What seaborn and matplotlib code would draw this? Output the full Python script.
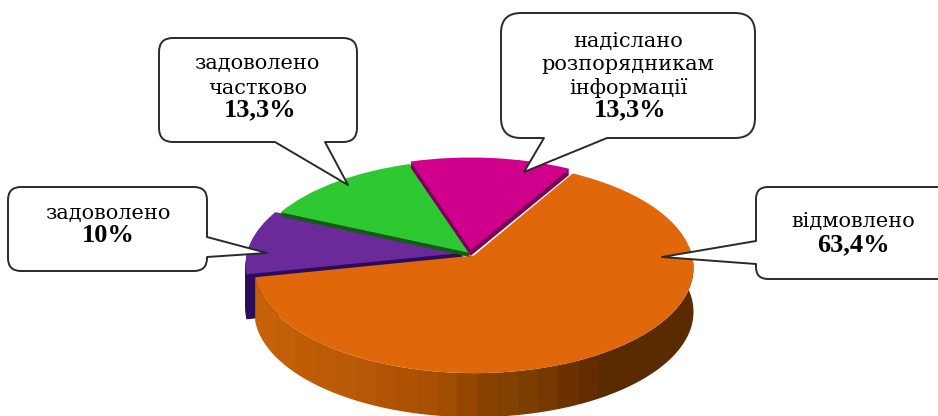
import numpy as np
import seaborn as sns
import matplotlib
matplotlib.use("Agg")
import matplotlib.pyplot as plt
from matplotlib.colors import LinearSegmentedColormap
from matplotlib.patches import PathPatch
from matplotlib.path import Path
from matplotlib.transforms import Affine2D, Transform

# Data, clockwise from the upper right
categories = ["відмовлено", "задоволено", "задоволено частково", "надіслано розпорядникам інформації"]
shares = [63.4, 10.0, 13.3, 13.3]
share_labels = ["63,4%", "10%", "13,3%", "13,3%"]

top_colors = ["#e0680a", "#6a2a9a", "#2ec832", "#d0008c"]
wall_colors = ["#5a2a00", "#2a0c58", "#145a16", "#7c0058"]
wall_depth = [0, 45, 4, 6]
explode = [0.03, 0.025, 0.0, 0.03]
layer_order = [3, 2, 4, 5]

sns.set_theme(style="white")


# tilts the flat pie into the perspective of the picture
class Tilt(Transform):
    input_dims = 2
    output_dims = 2

    def transform_non_affine(self, values):
        values = np.asarray(values)
        w = 1 + 0.114 * values[:, 1]
        return np.column_stack((470 + 217.6 * values[:, 0] / w, 253 - 103.6 * values[:, 1] / w))


def draw_pie(colors, depth, zorders):
    wedges, _ = ax.pie(shares, explode=explode, colors=colors, startangle=60,
                       counterclock=False, wedgeprops={"linewidth": 0})
    move = tilt + Affine2D().translate(0, depth) + ax.transData
    for wedge, z in zip(wedges, zorders):
        wedge.set_transform(move)
        wedge.set_zorder(z)
    return wedges


def balloon(left, top, right, bottom, rad, side, tail):
    # rounded box, the tail is (start, tip x, tip y, end) on the given side
    a, tx, ty, b = tail
    verts = [(left + rad, top)]
    codes = [Path.MOVETO]

    def line(*pts):
        verts.extend(pts)
        codes.extend([Path.LINETO] * len(pts))

    def corner(c, p):
        verts.extend([c, p])
        codes.extend([Path.CURVE3, Path.CURVE3])

    line((right - rad, top))
    corner((right, top), (right, top + rad))
    if side == "right":
        line((right, a), (tx, ty), (right, b))
    line((right, bottom - rad))
    corner((right, bottom), (right - rad, bottom))
    if side == "bottom":
        line((b, bottom), (tx, ty), (a, bottom))
    line((left + rad, bottom))
    corner((left, bottom), (left, bottom - rad))
    if side == "left":
        line((left, b), (tx, ty), (left, a))
    line((left, top + rad))
    corner((left, top), (left + rad, top))
    verts.append((left + rad, top))
    codes.append(Path.CLOSEPOLY)
    ax.add_patch(PathPatch(Path(verts, codes), facecolor="white", edgecolor="#2a2a2a",
                           linewidth=1.4, zorder=20, joinstyle="round"))


def label(lines, x_share, y_share, share):
    for x, y, txt in lines:
        ax.text(x, y, txt, ha="center", va="center", fontsize=15,
                family="DejaVu Serif", color="black", zorder=21)
    ax.text(x_share, y_share, share, ha="center", va="center", fontsize=19,
            family="Liberation Serif", weight="bold", color="black", zorder=22)


fig, ax = plt.subplots(figsize=(9.38, 4.16), dpi=100)
fig.subplots_adjust(0, 0, 1, 1)
tilt = Tilt()

# walls first, stacked downwards, then the top faces
for d in range(45, 0, -1):
    layer = draw_pie(wall_colors, d, [z - 0.5 for z in layer_order])
    for wedge, depth in zip(layer, wall_depth):
        wedge.set_visible(d <= depth)
tops = draw_pie(top_colors, 0, layer_order)

# orange wall with the streaky shading, running along the rim
w = tops[0]
angles = np.radians(np.linspace(w.theta1, w.theta2, 200))
rim = tilt.transform(np.column_stack((w.center[0] + np.cos(angles), w.center[1] + np.sin(angles))))
wall_outline = np.vstack((rim, (rim + [0, 44])[::-1], rim[:1]))
shade = LinearSegmentedColormap.from_list(
    "shade", ["#c6620a", "#c05c06", "#b85a06", "#b05204", "#a85002", "#8c4400",
              "#804000", "#6e3400", "#5a2a00", "#5a2a00", "#5a2a00"])
im = ax.imshow(np.linspace(0, 1, 22)[None, :], extent=(255, 700, 416, 250), cmap=shade,
               aspect="auto", zorder=2.8, interpolation="nearest")
im.set_clip_path(Path(wall_outline), transform=ax.transData)

balloon(8, 187, 207, 271, 13, "right", (237, 267, 253, 257))
balloon(159, 38, 357, 142, 14, "bottom", (275, 348, 185, 325))
balloon(501, 13, 755, 138, 20, "bottom", (544, 524, 172, 607))
balloon(756, 187, 960, 279, 12, "left", (241, 662, 257, 264))

label([(108, 214, categories[1])], 108, 236, share_labels[1])
label([(257, 64, "задоволено"), (258, 89, "частково")], 260, 110, share_labels[2])
label([(628, 41, "надіслано"), (628, 65, "розпорядникам"), (628, 88, "інформації")], 630, 110, share_labels[3])
label([(853, 222, categories[0])], 853, 245, share_labels[0])

ax.set_aspect("auto")
ax.set_xlim(0, 938)
ax.set_ylim(416, 0)
ax.set_xticks([])
ax.set_yticks([])
ax.axis("off")

fig.savefig("out.png", dpi=100, facecolor="white")
